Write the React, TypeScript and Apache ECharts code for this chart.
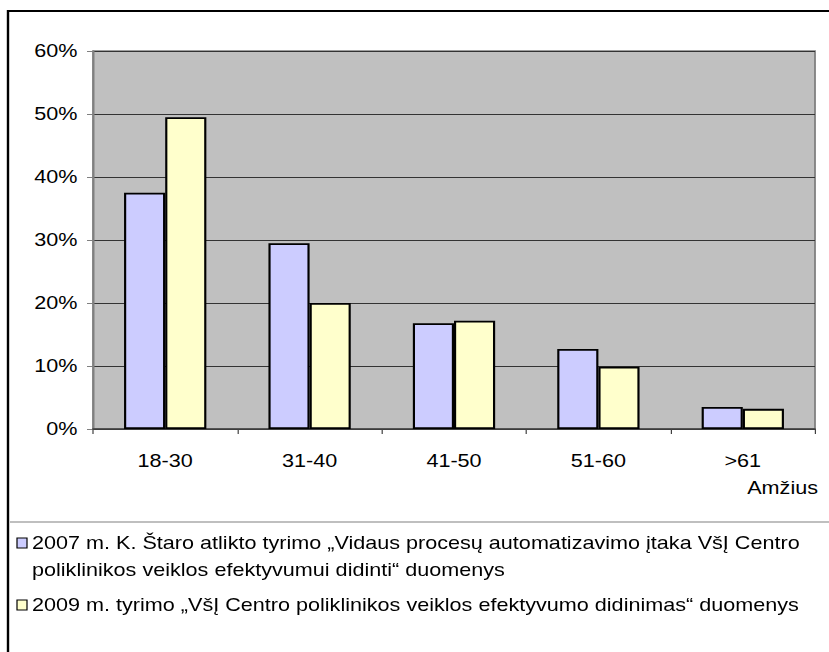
import React, { useEffect, useRef } from "react";
import * as echarts from "echarts";

const CATEGORIES = ["18-30", "31-40", "41-50", "51-60", ">61"];
const SERIES_NAMES = [
  "2007 m. K. Štaro atlikto tyrimo „Vidaus procesų automatizavimo įtaka VšĮ Centro poliklinikos veiklos efektyvumui didinti“ duomenys",
  "2009 m. tyrimo „VšĮ Centro poliklinikos veiklos efektyvumo didinimas“ duomenys",
];
const SERIES_COLORS = ["#ccccff", "#ffffcc"];
const VALUES_2007 = [0.375, 0.295, 0.168, 0.127, 0.035];
const VALUES_2009 = [0.495, 0.2, 0.172, 0.099, 0.032];
const Y_TICKS = [0, 0.1, 0.2, 0.3, 0.4, 0.5, 0.6];
const AXIS_NAME = "Amžius";

const SX = 1.2;
const W = 829;
const H = 652;
const CW = W / SX;
const FONT = "'Liberation Sans', Arial, sans-serif";

function wrapText(text: string, maxChars: number): string {
  const words = text.split(" ");
  const lines: string[] = [];
  let cur = "";
  for (const w of words) {
    const next = cur ? cur + " " + w : w;
    if (next.length > maxChars && cur) {
      lines.push(cur);
      cur = w;
    } else {
      cur = next;
    }
  }
  if (cur) lines.push(cur);
  return lines.join("\n");
}

export default function App() {
  const ref = useRef<HTMLDivElement>(null);
  useEffect(() => {
    if (!ref.current) return;
    const chart = echarts.init(ref.current, undefined, { renderer: "svg", width: CW, height: H });
    const legendTops = [529.5, 591.5];
    const legendGraphics: any[] = [];
    SERIES_NAMES.forEach((name, i) => {
      legendGraphics.push({
        type: "rect",
        shape: { x: 17 / SX, y: legendTops[i] + 8.5, width: 10 / SX, height: 10 },
        style: { fill: SERIES_COLORS[i], stroke: "#000", lineWidth: 1 },
        silent: true,
      });
      legendGraphics.push({
        type: "text",
        x: 32 / SX,
        y: legendTops[i],
        style: {
          text: wrapText(name, 80),
          fill: "#000",
          font: `18px ${FONT}`,
          lineHeight: 27,
          textAlign: "left",
          textVerticalAlign: "top",
        },
      });
    });
    chart.setOption({
      animation: false,
      backgroundColor: "#ffffff",
      textStyle: { fontFamily: FONT },
      grid: {
        left: 93 / SX,
        top: 51,
        width: 722 / SX,
        height: 378,
        show: true,
        backgroundColor: "#c0c0c0",
        borderColor: "#808080",
        borderWidth: 1.5,
      },
      xAxis: {
        type: "category",
        data: CATEGORIES,
        boundaryGap: true,
        axisLine: { show: true, lineStyle: { color: "#404040", width: 1.5 } },
        axisTick: { show: true, alignWithLabel: false, length: 5, lineStyle: { color: "#404040" } },
        axisLabel: { color: "#000", fontSize: 18, fontFamily: FONT, margin: 23 },
        splitLine: { show: false },
      },
      yAxis: {
        type: "value",
        min: Y_TICKS[0],
        max: Y_TICKS[Y_TICKS.length - 1],
        interval: 0.1,
        axisLine: { show: true, lineStyle: { color: "#808080", width: 1.5 } },
        axisTick: { show: true, length: 5, lineStyle: { color: "#808080" } },
        axisLabel: {
          color: "#000",
          fontSize: 18,
          fontFamily: FONT,
          margin: 13,
          formatter: (v: number) => Math.round(v * 100) + "%",
        },
        splitLine: { show: true, lineStyle: { color: "#333333", width: 1 } },
      },
      legend: { show: false },
      series: [
        {
          name: SERIES_NAMES[0],
          type: "bar",
          data: VALUES_2007,
          barGap: "0%",
          barCategoryGap: "43%",
          itemStyle: { color: SERIES_COLORS[0], borderColor: "#000", borderWidth: 1.8 },
        },
        {
          name: SERIES_NAMES[1],
          type: "bar",
          data: VALUES_2009,
          barGap: "0%",
          barCategoryGap: "43%",
          itemStyle: { color: SERIES_COLORS[1], borderColor: "#000", borderWidth: 1.8 },
        },
      ],
      graphic: [
        {
          type: "rect",
          shape: { x: 8 / SX, y: 11, width: 900, height: 800 },
          style: { fill: "none", stroke: "#000", lineWidth: 2 },
          silent: true,
        },
        {
          type: "line",
          shape: { x1: 10 / SX, y1: 522, x2: CW + 10, y2: 522 },
          style: { stroke: "#808080", lineWidth: 1 },
          silent: true,
        },
        {
          type: "text",
          x: 818 / SX,
          y: 488,
          style: {
            text: AXIS_NAME,
            fill: "#000",
            font: `18px ${FONT}`,
            textAlign: "right",
            textVerticalAlign: "middle",
          },
        },
        ...legendGraphics,
      ],
    });
    return () => chart.dispose();
  }, []);
  return (
    <div style={{ position: "fixed", left: 0, top: 0, width: W, height: H, overflow: "hidden", background: "#fff" }}>
      <div
        ref={ref}
        style={{ width: CW, height: H, transform: `scaleX(${SX})`, transformOrigin: "0 0" }}
      />
    </div>
  );
}
